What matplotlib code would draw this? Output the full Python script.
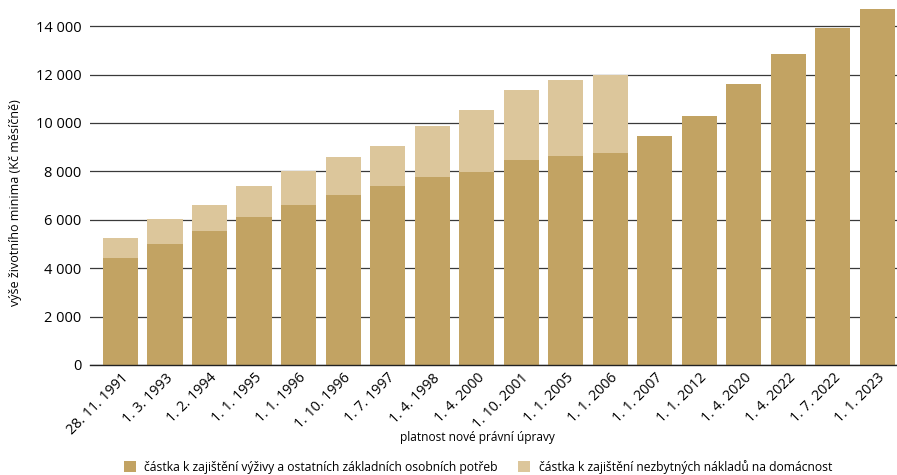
import matplotlib
matplotlib.use("Agg")
import matplotlib.pyplot as plt
import numpy as np

plt.rcParams['font.family'] = ['Open Sans', 'DejaVu Sans']

dates = ["28. 11. 1991", "1. 3. 1993", "1. 2. 1994", "1. 1. 1995", "1. 1. 1996",
         "1. 10. 1996", "1. 7. 1997", "1. 4. 1998", "1. 4. 2000", "1. 10. 2001",
         "1. 1. 2005", "1. 1. 2006", "1. 1. 2007", "1. 1. 2012", "1. 4. 2020",
         "1. 4. 2022", "1. 7. 2022", "1. 1. 2023"]

# amount for food and other basic personal needs
personal_needs = [4420, 5000, 5530, 6120, 6600, 7020, 7400, 7760, 7970, 8470,
                  8630, 8760, 9460, 10280, 11600, 12840, 13920, 14700]
# amount for necessary household costs (only until 2006)
household_costs = [830, 1030, 1070, 1280, 1400, 1580, 1650, 2110, 2560, 2890,
                   3140, 3240, 0, 0, 0, 0, 0, 0]

label_personal = "částka k zajištění výživy a ostatních základních osobních potřeb"
label_household = "částka k zajištění nezbytných nákladů na domácnost"

c_dark = "#C2A363"
c_light = "#DCC69B"

fig = plt.figure(figsize=(8.97, 4.75), dpi=100)
ax = fig.add_axes([90 / 897, 1 - 365 / 475, 1 - 90 / 897, 363 / 475])

x = np.arange(len(dates))
b1 = ax.bar(x, personal_needs, width=0.79, color=c_dark, zorder=2,
            label=label_personal)
hh = np.array(household_costs)
mask = hh > 0
b2 = ax.bar(x[mask], hh[mask], bottom=np.array(personal_needs)[mask], width=0.79,
            color=c_light, zorder=2, label=label_household)

ax.set_xlim(-0.685, 17.44)
ax.set_ylim(0, 15000)
ax.set_yticks(np.arange(0, 14001, 2000))
ax.set_yticklabels([f"{v:,}".replace(",", " ") for v in range(0, 14001, 2000)],
                   fontsize=10.5)
ax.yaxis.grid(True, color="#3a3a3a", linewidth=0.9, zorder=0)
ax.set_axisbelow(True)

for s in ["top", "right", "left"]:
    ax.spines[s].set_visible(False)
ax.spines["bottom"].set_color("#222222")
ax.spines["bottom"].set_linewidth(1.0)
ax.tick_params(axis="y", length=0, pad=6)
ax.tick_params(axis="x", length=0, pad=4)

ax.set_xticks(x)
ax.set_xticklabels(dates, rotation=45, ha="right", rotation_mode="anchor",
                   fontsize=10.3)

ax.set_ylabel("výše životního minima (Kč měsíčně)", fontsize=9)
ax.yaxis.set_label_coords(-68 / 807, (365 - 203) / 363)
fig.text(477 / 897, 1 - 438 / 475, "platnost nové právní úpravy", fontsize=8.6,
         ha="center", va="center")

fig.legend(handles=[b1, b2], loc="center", ncol=2, frameon=False,
           bbox_to_anchor=(478 / 897, 1 - 467 / 475), fontsize=8.7,
           handlelength=1.0, handleheight=1.0, handletextpad=0.68,
           columnspacing=1.7, borderaxespad=0, borderpad=0)

fig.savefig("out.png", dpi=100)
